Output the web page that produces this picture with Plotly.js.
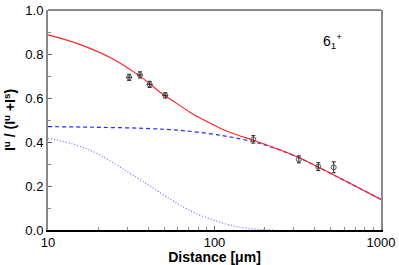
<!DOCTYPE html>
<html>
<head>
<meta charset="utf-8">
<script src="https://cdn.plot.ly/plotly-3.0.1.min.js"></script>
<style>html,body{margin:0;padding:0;background:#fff;}#chart{width:399px;height:265px;}</style>
</head>
<body>
<div id="chart"></div>
<script>
// Measured points
const distance = [30.7, 35.7, 40.8, 50.6, 171, 321, 420, 520];
const ratio    = [0.694, 0.705, 0.662, 0.612, 0.412, 0.321, 0.288, 0.285];
const ratioErr = [0.014, 0.014, 0.014, 0.012, 0.017, 0.016, 0.018, 0.025];
const distErr  = [1.3, 1.5, 1.7, 2.1, 0, 0, 0, 0];

// Total fit (red)
const totalX = [10, 15.2, 24.2, 34.8, 40.8, 47.1, 58, 74.6, 95, 118, 140, 171, 230, 327, 568, 1000];
const totalY = [0.887, 0.846, 0.780, 0.705, 0.665, 0.626, 0.580, 0.526, 0.484, 0.450, 0.430, 0.408, 0.373, 0.326, 0.235, 0.139];

// Component 1 (blue dashed)
const dashX = [10, 19, 38, 66, 116, 171, 230, 327, 568, 1000];
const dashY = [0.470, 0.467, 0.462, 0.451, 0.427, 0.401, 0.372, 0.326, 0.235, 0.139];

// Component 2 (blue dotted)
const dotX = [10, 15, 20, 30, 40, 55, 76, 116, 150, 190, 230];
const dotY = [0.417, 0.385, 0.345, 0.265, 0.205, 0.137, 0.078, 0.028, 0.010, 0.002, 0.0];

const layout = {
  width: 399, height: 265,
  margin: {l: 48, r: 18, t: 10, b: 35},
  paper_bgcolor: '#fff', plot_bgcolor: '#fff',
  showlegend: false,
  font: {family: 'Liberation Sans, Arial, sans-serif', size: 13, color: '#000'},
  xaxis: {
    type: 'log', range: [1, 3], dtick: 1,
    ticks: 'inside', ticklen: 4, tickcolor: '#666', tickwidth: 1,
    minor: {dtick: 'D1', ticks: 'inside', ticklen: 3, tickcolor: '#888', tickwidth: 1, showgrid: false},
    showgrid: false, zeroline: false,
    showline: true, linecolor: '#000', linewidth: 1.5,
    tickfont: {size: 13},
    title: {text: '<b>Distance [μm]</b>', font: {size: 14}, standoff: 3}
  },
  yaxis: {
    range: [0, 1], dtick: 0.2, tickformat: '.1f',
    ticks: 'inside', ticklen: 4, tickcolor: '#666', tickwidth: 1,
    minor: {dtick: 0.1, ticks: 'inside', ticklen: 3, tickcolor: '#888', tickwidth: 1, showgrid: false},
    showgrid: false, zeroline: false,
    showline: true, linecolor: '#888', linewidth: 2, mirror: true,
    tickfont: {size: 13},
    title: {text: '<b>I<sup>u</sup> / (I<sup>u</sup> +I<sup>s</sup>)</b>', font: {size: 14}, standoff: 6}
  },
  shapes: [
    {type: 'line', xref: 'paper', yref: 'paper', x0: 0, x1: 1, y0: 1, y1: 1, line: {color: '#888', width: 2}}
  ],
  annotations: [
    {xref: 'paper', yref: 'paper', x: 0.82, y: 0.86, xanchor: 'left', yanchor: 'middle', showarrow: false,
     text: '6<sub>1</sub><sup>+</sup>', font: {size: 14, color: '#000'}}
  ]
};

const traces = [
  {x: dotX, y: dotY, mode: 'lines', line: {color: '#7070ff', width: 1.2, dash: '1px,2px', shape: 'spline', smoothing: 1}, hoverinfo: 'skip'},
  {x: dashX, y: dashY, mode: 'lines', line: {color: '#2b2bff', width: 1.2, dash: '4px,3px', shape: 'spline', smoothing: 1}, hoverinfo: 'skip'},
  {x: totalX, y: totalY, mode: 'lines', line: {color: '#ff2020', width: 1.1, shape: 'spline', smoothing: 1}, hoverinfo: 'skip'},
  {x: distance, y: ratio, mode: 'markers',
   marker: {symbol: 'circle-open', size: 5, color: '#555', line: {width: 1, color: '#555'}},
   error_y: {type: 'data', array: ratioErr, visible: true, color: '#222', thickness: 1, width: 2},
   error_x: {type: 'data', array: distErr, visible: true, color: '#222', thickness: 1, width: 0}}
];

Plotly.newPlot('chart', traces, layout, {displayModeBar: false, staticPlot: true});
</script>
</body>
</html>
